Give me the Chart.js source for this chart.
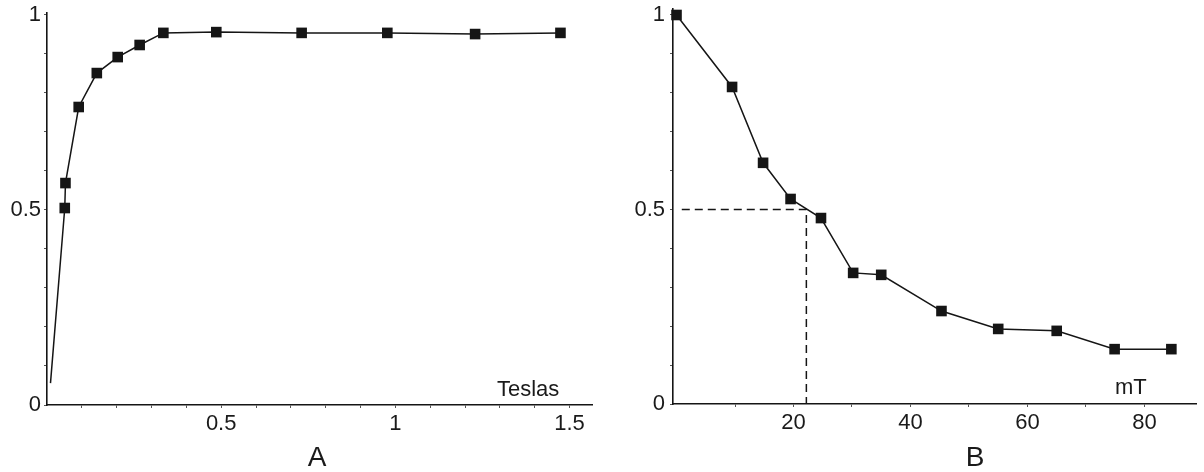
<!DOCTYPE html>
<html>
<head>
<meta charset="utf-8">
<script src="https://cdn.jsdelivr.net/npm/chart.js@4"></script>
<style>
  body { margin: 0; background: #fff; }
  #wrap { position: relative; width: 1204px; height: 472px; overflow: hidden; }
  canvas { position: absolute; top: 0; }
  #chartA { left: 0; }
  #chartB { left: 600px; }
  .lbl { position: absolute; font-family: "Liberation Sans", Arial, sans-serif; color: #1a1a1a; line-height: 1; white-space: nowrap; }
  .small { font-size: 22px; }
  .big { font-size: 28px; width: 40px; text-align: center; }
</style>
</head>
<body>
<div id="wrap">
  <canvas id="chartA" width="600" height="472"></canvas>
  <canvas id="chartB" width="604" height="472"></canvas>
  <div class="lbl small" style="left:497px; top:378px;">Teslas</div>
  <div class="lbl small" style="left:1115px; top:376px;">mT</div>
  <div class="lbl big" style="left:297px; top:443px;">A</div>
  <div class="lbl big" style="left:955px; top:443px;">B</div>
</div>
<script>
// ---------- DATOS ----------
// Panel A (Teslas)
const teslaX = [0.01, 0.051, 0.053, 0.091, 0.143, 0.203, 0.266, 0.334, 0.486, 0.731, 0.977, 1.229, 1.474];
const teslaY = [0.056, 0.505, 0.569, 0.764, 0.851, 0.892, 0.923, 0.954, 0.956, 0.954, 0.954, 0.951, 0.954];
const teslaMarker = [false, true, true, true, true, true, true, true, true, true, true, true, true];

// Panel B (mT)
const mtX = [0, 9.5, 14.8, 19.5, 24.7, 30.2, 35, 45.3, 55, 65, 74.9, 84.6];
const mtY = [1.0, 0.815, 0.62, 0.527, 0.478, 0.337, 0.332, 0.239, 0.193, 0.188, 0.141, 0.141];
const halfX = [0.9, 22.2, 22.2];
const halfY = [0.5, 0.5, 0];

// Ticks
const yMinor = [0, 0.1, 0.2, 0.3, 0.4, 0.5, 0.6, 0.7, 0.8, 0.9, 1];
const yLabelVals = [0, 0.5, 1];
const yLabels = ['0', '0.5', '1'];
const aMinorX = [0.1, 0.2, 0.3, 0.4, 0.5, 0.6, 0.7, 0.8, 0.9, 1, 1.1, 1.2, 1.3, 1.4, 1.5];
const aLabelVals = [0.5, 1, 1.5];
const aLabels = ['0.5', '1', '1.5'];
const bMinorX = [10, 20, 30, 40, 50, 60, 70, 80];
const bLabelVals = [20, 40, 60, 80];
const bLabels = ['20', '40', '60', '80'];

const INK = '#151515';
const FONT = { family: '"Liberation Sans", Arial, sans-serif', size: 22 };

function labelFor(vals, labels) {
  return value => {
    const i = vals.findIndex(v => Math.abs(v - value) < 1e-6);
    return i >= 0 ? labels[i] : '';
  };
}

function pts(xs, ys) {
  return xs.map((x, i) => ({ x: x, y: ys[i] }));
}

function makeScales(cfg) {
  return {
    x: {
      type: 'linear',
      min: cfg.xMin, max: cfg.xMax,
      afterBuildTicks: s => { s.ticks = cfg.xTicks.map(v => ({ value: v })); },
      afterFit: s => { s.height = cfg.xHeight; s.paddingLeft = 0; s.paddingRight = 0; },
      border: { display: true, color: INK, width: 1.6 },
      grid: { drawOnChartArea: false, drawTicks: true, tickLength: 3, color: '#555' },
      ticks: { autoSkip: false, maxRotation: 0, padding: 3, color: '#1a1a1a', font: FONT,
               callback: labelFor(cfg.xLabelVals, cfg.xLabels) }
    },
    y: {
      type: 'linear',
      min: 0, max: cfg.yMax,
      afterBuildTicks: s => { s.ticks = yMinor.map(v => ({ value: v })); },
      afterFit: s => { s.width = cfg.yWidth; s.paddingTop = 0; s.paddingBottom = 0; },
      border: { display: true, color: INK, width: 1.6 },
      grid: { drawOnChartArea: false, drawTicks: true, tickLength: 3, color: '#555' },
      ticks: { autoSkip: false, padding: cfg.yPad, color: '#1a1a1a', font: FONT,
               callback: labelFor(yLabelVals, yLabels) }
    }
  };
}

// ---------- PANEL A ----------
new Chart(document.getElementById('chartA'), {
  type: 'line',
  data: {
    datasets: [{
      data: pts(teslaX, teslaY),
      borderColor: INK, borderWidth: 1.5, tension: 0,
      pointStyle: 'rect',
      pointRadius: teslaMarker.map(m => m ? 7.5 : 0),
      pointBackgroundColor: INK, pointBorderColor: INK, pointBorderWidth: 0,
      clip: false
    }]
  },
  options: {
    responsive: false, animation: false,
    layout: { padding: { top: 13, right: 5, left: 0, bottom: 0 } },
    plugins: { legend: { display: false }, tooltip: { enabled: false } },
    scales: makeScales({
      xMin: 0, xMax: 1.566, xTicks: aMinorX, xLabelVals: aLabelVals, xLabels: aLabels,
      xHeight: 67, yMax: 1.005, yWidth: 47, yPad: 3
    })
  }
});

// ---------- PANEL B ----------
new Chart(document.getElementById('chartB'), {
  type: 'line',
  data: {
    datasets: [{
      data: pts(mtX, mtY),
      borderColor: INK, borderWidth: 1.5, tension: 0,
      pointStyle: 'rect', pointRadius: 7.5,
      pointBackgroundColor: INK, pointBorderColor: INK, pointBorderWidth: 0,
      clip: false
    }, {
      data: pts(halfX, halfY),
      borderColor: INK, borderWidth: 1.5, borderDash: [8, 5], tension: 0,
      pointRadius: 0, clip: false
    }]
  },
  options: {
    responsive: false, animation: false,
    layout: { padding: { top: 9, right: 0, left: 0, bottom: 0 } },
    plugins: { legend: { display: false }, tooltip: { enabled: false } },
    scales: makeScales({
      xMin: -0.6, xMax: 88.9, xTicks: bMinorX, xLabelVals: bLabelVals, xLabels: bLabels,
      xHeight: 68, yMax: 1.0154, yWidth: 73, yPad: 5
    })
  }
});
</script>
</body>
</html>
